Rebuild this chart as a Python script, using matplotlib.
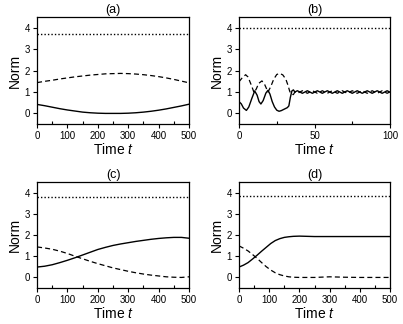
import numpy as np
import matplotlib.pyplot as plt
from matplotlib.ticker import MultipleLocator

plt.rcParams['font.family'] = ['Liberation Sans', 'DejaVu Sans']
plt.rcParams['mathtext.fontset'] = 'custom'
plt.rcParams['mathtext.it'] = 'Liberation Sans:italic'
plt.rcParams['mathtext.rm'] = 'Liberation Sans'

# (a)
ta = [0, 25, 50, 75, 100, 125, 150, 175, 200, 225, 250, 275, 300, 325, 350, 375, 400, 425, 450, 475, 500]
a_dot = 3.73
a_dash = [1.44, 1.50, 1.55, 1.61, 1.66, 1.71, 1.75, 1.79, 1.82, 1.85, 1.86, 1.87, 1.86, 1.84, 1.81,
          1.77, 1.72, 1.66, 1.59, 1.51, 1.43]
a_sol = [0.42, 0.36, 0.29, 0.22, 0.16, 0.11, 0.06, 0.03, 0.01, 0.0, 0.0, 0.0, 0.01, 0.03, 0.06,
         0.10, 0.15, 0.21, 0.28, 0.35, 0.43]

# (b)
tb_sol = [0, 1.5, 3, 4.9, 6.5, 8.5, 10.4, 12, 13.3, 14.5, 16, 17.8, 19.2, 20.5, 22, 23.5, 25, 26.5,
          28, 30, 32, 33, 34, 35, 36, 37.0, 38.65, 40.3, 41.95, 43.6, 45.25, 46.9, 48.55, 50.2,
          51.85, 53.5, 55.15, 56.8, 58.45, 60.1, 61.75, 63.4, 65.05, 66.7, 68.35, 70.0, 71.65,
          73.3, 74.95, 76.6, 78.25, 79.9, 81.55, 83.2, 84.85, 86.5, 88.15, 89.8, 91.45, 93.1,
          94.75, 96.4, 98.05, 99.7, 100]
b_sol = [0.55, 0.45, 0.25, 0.14, 0.3, 0.7, 1.05, 0.85, 0.55, 0.44, 0.6, 0.95, 1.08, 0.9, 0.55, 0.3,
         0.15, 0.1, 0.13, 0.2, 0.27, 0.35, 0.75, 1.05, 1.1, 1.0,
         1.06, 1.0, 0.94, 1.0, 1.06, 1.0, 0.94, 1.0, 1.06, 1.0, 0.94, 1.0, 1.06, 1.0, 0.94, 1.0,
         1.06, 1.0, 0.94, 1.0, 1.06, 1.0, 0.94, 1.0, 1.06, 1.0, 0.94, 1.0, 1.06, 1.0, 0.94, 1.0,
         1.06, 1.0, 0.94, 1.0, 1.06, 1.0, 0.99]
tb_dash = [0, 2, 4.4, 6, 8, 10, 11.5, 13, 15.2, 17, 19.2, 21, 23, 25, 27, 29, 31, 32.5, 33.5, 34.5,
           36, 37.0, 38.65, 40.3, 41.95, 43.6, 45.25, 46.9, 48.55, 50.2, 51.85, 53.5, 55.15,
           56.8, 58.45, 60.1, 61.75, 63.4, 65.05, 66.7, 68.35, 70.0, 71.65, 73.3, 74.95, 76.6,
           78.25, 79.9, 81.55, 83.2, 84.85, 86.5, 88.15, 89.8, 91.45, 93.1, 94.75, 96.4, 98.05,
           99.7, 100]
b_dash = [1.48, 1.65, 1.81, 1.7, 1.35, 0.97, 1.15, 1.4, 1.52, 1.35, 1.0, 1.25, 1.6, 1.82, 1.87,
          1.8, 1.6, 1.3, 1.05, 0.9, 0.88, 1.0,
          0.94, 1.0, 1.06, 1.0, 0.94, 1.0, 1.06, 1.0, 0.94, 1.0, 1.06, 1.0, 0.94, 1.0, 1.06, 1.0,
          0.94, 1.0, 1.06, 1.0, 0.94, 1.0, 1.06, 1.0, 0.94, 1.0, 1.06, 1.0, 0.94, 1.0, 1.06, 1.0,
          0.94, 1.0, 1.06, 1.0, 0.94, 1.0, 1.01]
b_dot = 4.0

# (c)
tc = [0, 25, 50, 75, 100, 125, 150, 175, 200, 225, 250, 275, 300, 325, 350, 375, 400, 425, 450, 475, 500]
c_dot = 3.78
c_sol = [0.49, 0.53, 0.60, 0.70, 0.81, 0.93, 1.06, 1.19, 1.32, 1.42, 1.51, 1.58, 1.64, 1.70, 1.75,
         1.80, 1.84, 1.87, 1.89, 1.89, 1.85]
c_dash = [1.44, 1.39, 1.33, 1.24, 1.13, 1.00, 0.88, 0.76, 0.65, 0.55, 0.45, 0.37, 0.29, 0.22, 0.16,
          0.11, 0.07, 0.03, 0.01, 0.0, 0.03]

# (d)
td = [0, 15, 30, 45, 60, 75, 90, 105, 120, 135, 150, 165, 180, 200, 250, 300, 350, 400, 450, 500]
d_dot = 3.85
d_sol = [0.49, 0.58, 0.70, 0.87, 1.05, 1.24, 1.42, 1.60, 1.74, 1.83, 1.89, 1.92, 1.94, 1.95, 1.93,
         1.93, 1.93, 1.93, 1.93, 1.93]
d_dash = [1.49, 1.38, 1.25, 1.08, 0.90, 0.70, 0.51, 0.35, 0.22, 0.13, 0.07, 0.03, 0.01, 0.0, 0.0,
          0.03, 0.01, 0.0, 0.0, 0.0]

fig = plt.figure(figsize=(4.03, 3.24), dpi=100)
pos = [[0.092, 0.617, 0.377, 0.330], [0.593, 0.617, 0.375, 0.330],
       [0.092, 0.111, 0.377, 0.327], [0.593, 0.111, 0.375, 0.327]]
titles = ['(a)', '(b)', '(c)', '(d)']
data = [(ta, ta, a_dot, a_dash, a_sol, 500), (tb_dash, tb_sol, b_dot, b_dash, b_sol, 100),
        (tc, tc, c_dot, c_dash, c_sol, 500), (td, td, d_dot, d_dash, d_sol, 500)]

for p, ttl, (t1, t2, dot, dash, sol, tmax) in zip(pos, titles, data):
    ax = fig.add_axes(p)
    ax.plot([0, tmax], [dot, dot], color='black', linestyle=(0, (1, 1.5)), linewidth=1)
    ax.plot(t1, dash, color='black', linestyle=(0, (4, 2.5)), linewidth=0.9)
    ax.plot(t2, sol, color='black', linewidth=1)
    ax.set_xlim(0, tmax)
    ax.set_ylim(-0.5, 4.5)
    ax.set_title(ttl, fontsize=9, pad=3)
    ax.set_xlabel(r'Time $t$', fontsize=10, labelpad=1)
    ax.set_ylabel('Norm', fontsize=10, labelpad=2)
    ax.yaxis.set_major_locator(MultipleLocator(1))
    if tmax == 100:
        ax.xaxis.set_major_locator(MultipleLocator(50))
        ax.xaxis.set_minor_locator(MultipleLocator(25))
    else:
        ax.xaxis.set_major_locator(MultipleLocator(100))
        ax.xaxis.set_minor_locator(MultipleLocator(50))
    ax.tick_params(axis='both', which='major', labelsize=7, length=3, width=0.8, pad=2)
    ax.tick_params(axis='x', which='minor', direction='in', length=2, width=0.8)
    ax.tick_params(axis='y', which='minor', left=False)
    for s in ax.spines.values():
        s.set_linewidth(0.9)

fig.savefig('out.png', dpi=100)
